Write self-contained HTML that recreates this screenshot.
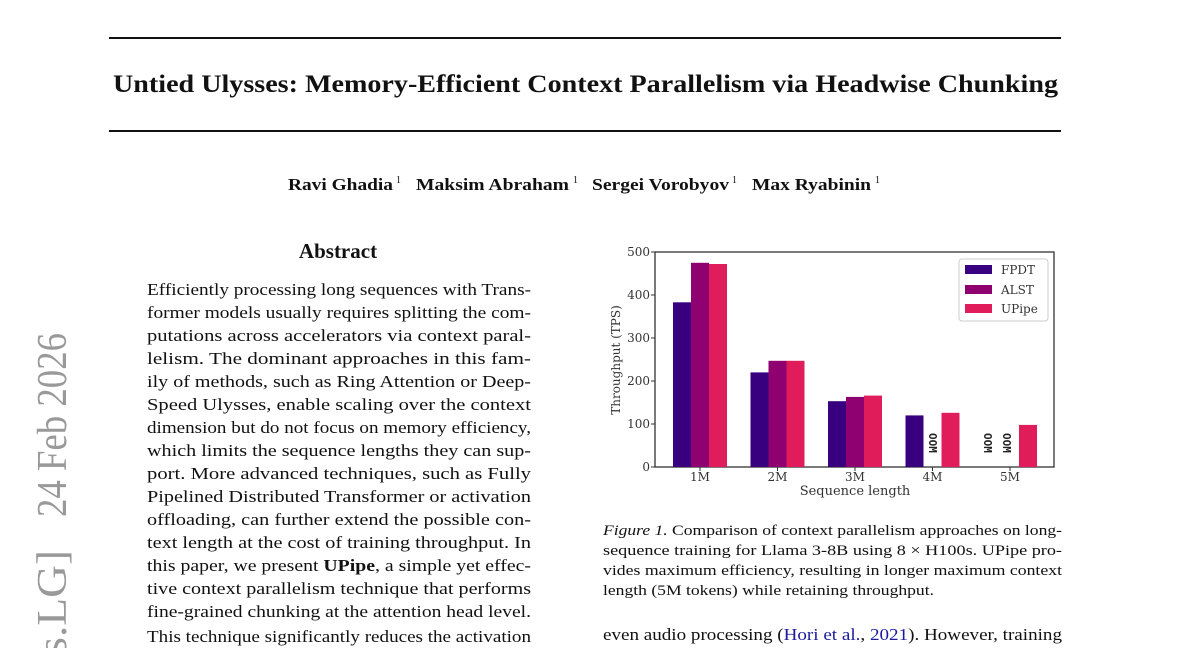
<!DOCTYPE html>
<html><head><meta charset="utf-8"><style>
html,body{margin:0;padding:0;background:#fff;overflow:hidden;}
svg{display:block;}
.t{font-family:"Liberation Serif",serif;fill:#111;}
.c{font-family:"DejaVu Serif",serif;fill:#333;font-size:12px;}
</style></head><body>
<svg width="1200" height="648" viewBox="0 0 1200 648" xmlns="http://www.w3.org/2000/svg">
<rect width="1200" height="648" fill="#fff"/>
<rect x="109" y="37" width="952" height="2" fill="#111"/>
<rect x="109" y="130" width="952" height="2" fill="#111"/>
<text class="t" x="113" y="92" font-size="25" font-weight="bold" textLength="945" lengthAdjust="spacingAndGlyphs">Untied Ulysses: Memory-Efficient Context Parallelism via Headwise Chunking</text>
<g class="t" font-size="17" font-weight="bold">
<text x="288" y="190" textLength="105" lengthAdjust="spacingAndGlyphs">Ravi Ghadia</text>
<text x="416" y="190" textLength="153" lengthAdjust="spacingAndGlyphs">Maksim Abraham</text>
<text x="592" y="190" textLength="137" lengthAdjust="spacingAndGlyphs">Sergei Vorobyov</text>
<text x="752" y="190" textLength="119" lengthAdjust="spacingAndGlyphs">Max Ryabinin</text>
</g>
<g class="t" font-size="10"><text x="396" y="183">1</text><text x="573" y="183">1</text><text x="732" y="183">1</text><text x="875" y="183">1</text></g>
<text class="t" x="338" y="258" font-size="21" font-weight="bold" text-anchor="middle">Abstract</text>
<g fill="#999" font-family="Liberation Serif,serif" font-size="42">
<text transform="translate(66,517) rotate(-90)" textLength="184" lengthAdjust="spacingAndGlyphs">24 Feb 2026</text>
<text transform="translate(66,690) rotate(-90)" textLength="140" lengthAdjust="spacingAndGlyphs">[cs.LG]</text>
</g>
<g class="t" font-size="17">
<text x="147" y="295" textLength="384" lengthAdjust="spacingAndGlyphs">Efficiently processing long sequences with Trans-</text>
<text x="147" y="318" textLength="384" lengthAdjust="spacingAndGlyphs">former models usually requires splitting the com-</text>
<text x="147" y="341" textLength="384" lengthAdjust="spacingAndGlyphs">putations across accelerators via context paral-</text>
<text x="147" y="364" textLength="384" lengthAdjust="spacingAndGlyphs">lelism.  The dominant approaches in this fam-</text>
<text x="147" y="387" textLength="384" lengthAdjust="spacingAndGlyphs">ily of methods, such as Ring Attention or Deep-</text>
<text x="147" y="410" textLength="384" lengthAdjust="spacingAndGlyphs">Speed Ulysses, enable scaling over the context</text>
<text x="147" y="433" textLength="384" lengthAdjust="spacingAndGlyphs">dimension but do not focus on memory efficiency,</text>
<text x="147" y="456" textLength="384" lengthAdjust="spacingAndGlyphs">which limits the sequence lengths they can sup-</text>
<text x="147" y="479" textLength="384" lengthAdjust="spacingAndGlyphs">port.  More advanced techniques, such as Fully</text>
<text x="147" y="502" textLength="384" lengthAdjust="spacingAndGlyphs">Pipelined Distributed Transformer or activation</text>
<text x="147" y="525" textLength="384" lengthAdjust="spacingAndGlyphs">offloading, can further extend the possible con-</text>
<text x="147" y="548" textLength="384" lengthAdjust="spacingAndGlyphs">text length at the cost of training throughput. In</text>
<text x="147" y="571" textLength="384" lengthAdjust="spacingAndGlyphs">this paper, we present <tspan font-weight="bold">UPipe</tspan>, a simple yet effec-</text>
<text x="147" y="594" textLength="384" lengthAdjust="spacingAndGlyphs">tive context parallelism technique that performs</text>
<text x="147" y="617" textLength="384" lengthAdjust="spacingAndGlyphs">fine-grained chunking at the attention head level.</text>
<text x="147" y="642" textLength="384" lengthAdjust="spacingAndGlyphs">This technique significantly reduces the activation</text>
</g>
<g>
<rect x="655" y="252" width="399" height="215" fill="none" stroke="#333" stroke-width="1.3"/>
<g stroke="#333" stroke-width="1">
<line x1="651" y1="467" x2="655" y2="467"/><line x1="651" y1="424" x2="655" y2="424"/><line x1="651" y1="381" x2="655" y2="381"/><line x1="651" y1="338" x2="655" y2="338"/><line x1="651" y1="295" x2="655" y2="295"/><line x1="651" y1="252" x2="655" y2="252"/>
<line x1="700" y1="467" x2="700" y2="471"/><line x1="777.5" y1="467" x2="777.5" y2="471"/><line x1="855" y1="467" x2="855" y2="471"/><line x1="932.5" y1="467" x2="932.5" y2="471"/><line x1="1010" y1="467" x2="1010" y2="471"/>
</g>
<g class="c" text-anchor="end">
<text x="650" y="471">0</text><text x="650" y="428">100</text><text x="650" y="385">200</text><text x="650" y="342">300</text><text x="650" y="299">400</text><text x="650" y="256">500</text>
</g>
<g class="c" text-anchor="middle">
<text x="700" y="481">1M</text><text x="777.5" y="481">2M</text><text x="855" y="481">3M</text><text x="932.5" y="481">4M</text><text x="1010" y="481">5M</text>
<text x="855" y="495" font-size="13">Sequence length</text>
<text transform="translate(620,360) rotate(-90)">Throughput (TPS)</text>
</g>
<g>
<rect x="673" y="302.3" width="18" height="164.7" fill="#38007f"/>
<rect x="691" y="262.8" width="18" height="204.2" fill="#8f0070"/>
<rect x="709" y="264" width="18" height="203" fill="#e01c5a"/>
<rect x="750.5" y="372.4" width="18" height="94.6" fill="#38007f"/>
<rect x="768.5" y="360.8" width="18" height="106.2" fill="#8f0070"/>
<rect x="786.5" y="360.8" width="18" height="106.2" fill="#e01c5a"/>
<rect x="828" y="401.2" width="18" height="65.8" fill="#38007f"/>
<rect x="846" y="396.9" width="18" height="70.1" fill="#8f0070"/>
<rect x="864" y="395.6" width="18" height="71.4" fill="#e01c5a"/>
<rect x="905.5" y="415.4" width="18" height="51.6" fill="#38007f"/>
<rect x="941.5" y="412.8" width="18" height="54.2" fill="#e01c5a"/>
<rect x="1019" y="424.9" width="18" height="42.1" fill="#e01c5a"/>
</g>
<g font-family="DejaVu Sans Mono,monospace" font-size="11" font-weight="bold" fill="#222">
<text transform="translate(929,433) rotate(90)">OOM</text>
<text transform="translate(984,433) rotate(90)">OOM</text>
<text transform="translate(1003,433) rotate(90)">OOM</text>
</g>
<rect x="959" y="259" width="89" height="62" rx="3" fill="#fff" stroke="#ccc"/>
<rect x="965" y="265" width="27" height="9" fill="#38007f"/>
<rect x="965" y="285" width="27" height="9" fill="#8f0070"/>
<rect x="965" y="304" width="27" height="9" fill="#e01c5a"/>
<g class="c"><text x="1001" y="274">FPDT</text><text x="1001" y="294">ALST</text><text x="1001" y="313">UPipe</text></g>
</g>
<g class="t" font-size="15">
<text x="603" y="535" textLength="459" lengthAdjust="spacingAndGlyphs"><tspan font-style="italic">Figure 1.</tspan> Comparison of context parallelism approaches on long-</text>
<text x="603" y="555" textLength="459" lengthAdjust="spacingAndGlyphs">sequence training for Llama 3-8B using 8 × H100s.  UPipe pro-</text>
<text x="603" y="575" textLength="459" lengthAdjust="spacingAndGlyphs">vides maximum efficiency, resulting in longer maximum context</text>
<text x="603" y="595" textLength="331" lengthAdjust="spacingAndGlyphs">length (5M tokens) while retaining throughput.</text>
</g>
<text class="t" x="603" y="640" font-size="17" textLength="459" lengthAdjust="spacingAndGlyphs">even audio processing (<tspan fill="#1a1a9a">Hori et al.</tspan>, <tspan fill="#1a1a9a">2021</tspan>). However, training</text>
</svg>
</body></html>
